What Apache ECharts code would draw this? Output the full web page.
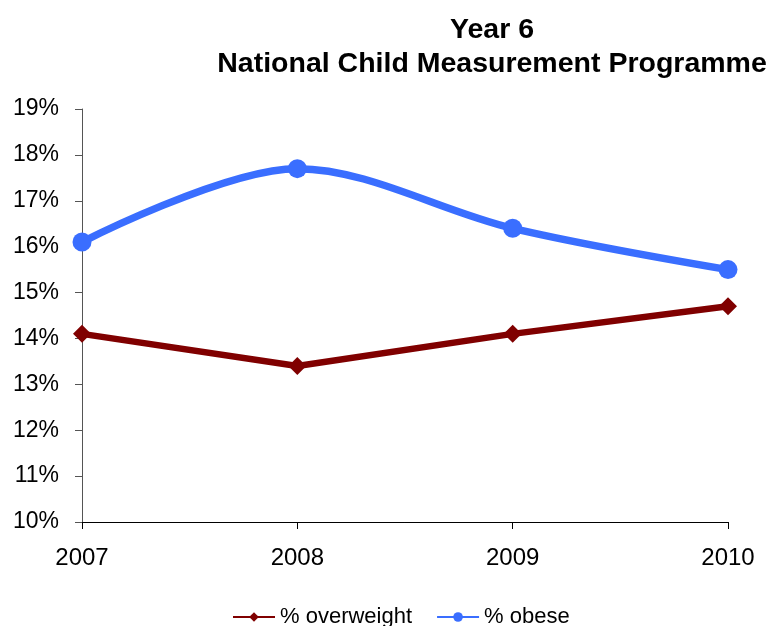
<!DOCTYPE html>
<html>
<head>
<meta charset="utf-8">
<script src="https://cdn.jsdelivr.net/npm/echarts@6/dist/echarts.min.js"></script>
<style>html,body{margin:0;padding:0;background:#fff;}#c{width:771px;height:626px;}</style>
</head>
<body>
<div id="c"></div>
<script>
const years = ['2007', '2008', '2009', '2010'];
const overweight = [14.1, 13.4, 14.1, 14.7];
const obese = [16.1, 17.7, 16.4, 15.5];
const yTicks = [10, 11, 12, 13, 14, 15, 16, 17, 18, 19];

const chart = echarts.init(document.getElementById('c'));
const font = 'Liberation Sans, Arial, sans-serif';
chart.setOption({
  animation: false,
  title: {
    text: 'Year 6\nNational Child Measurement Programme',
    left: 487, top: 8, textAlign: 'center',
    textStyle: { fontFamily: font, fontSize: 28.5, fontWeight: 'bold', color: '#000', lineHeight: 34, align: 'center' }
  },
  legend: {
    bottom: -7, left: 227,
    itemWidth: 42, itemHeight: 12, itemGap: 24,
    textStyle: { fontFamily: font, fontSize: 22, color: '#000' },
    data: ['% overweight', '% obese']
  },
  grid: { left: 82, right: 43, top: 109, bottom: 104, containLabel: false },
  xAxis: {
    type: 'category', data: years, boundaryGap: false,
    axisLine: { lineStyle: { color: '#000', width: 1 } },
    axisTick: { show: true, length: 7, lineStyle: { color: '#000' } },
    axisLabel: { fontFamily: font, fontSize: 24, color: '#000', margin: 24 }
  },
  yAxis: {
    type: 'value', min: yTicks[0], max: yTicks[yTicks.length - 1], interval: 1,
    axisLine: { show: true, lineStyle: { color: '#555', width: 1 } },
    axisTick: { show: true, length: 7, lineStyle: { color: '#555' } },
    splitLine: { show: false },
    axisLabel: { fontFamily: font, fontSize: 23, color: '#000', margin: 23, formatter: v => v + '%' }
  },
  series: [
    {
      name: '% overweight', type: 'line', data: overweight,
      symbol: 'diamond', symbolSize: 18,
      lineStyle: { color: '#800000', width: 6.5 },
      itemStyle: { color: '#800000' }
    },
    {
      name: '% obese', type: 'line', data: obese, smooth: 0.33,
      symbol: 'circle', symbolSize: 19,
      lineStyle: { color: '#3a6eff', width: 7.5 },
      itemStyle: { color: '#3a6eff' }
    }
  ]
});
</script>
</body>
</html>
